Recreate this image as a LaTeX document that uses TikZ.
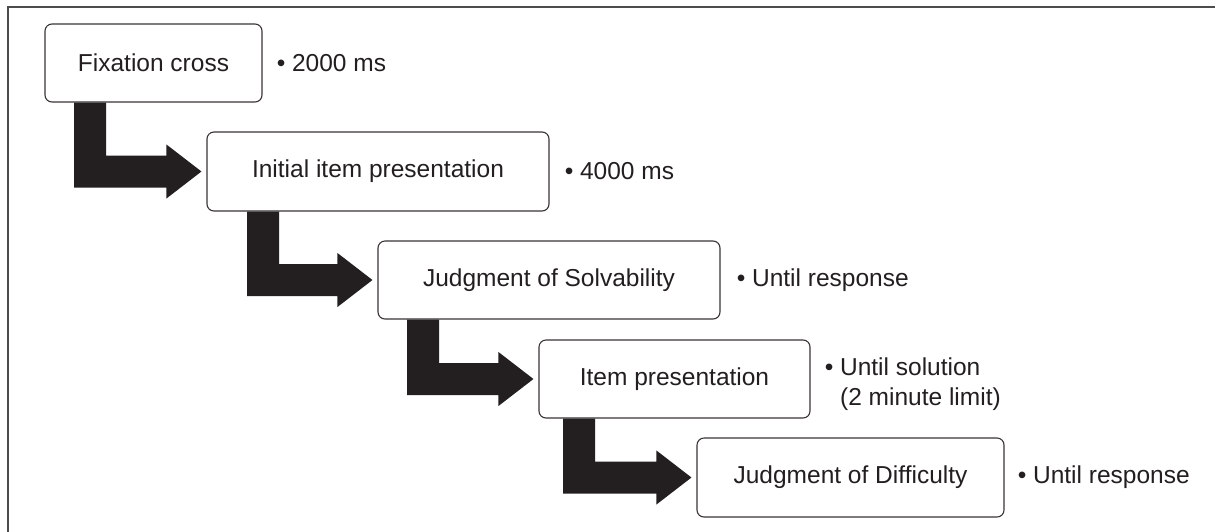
\documentclass[tikz,border=0pt]{standalone}
\usepackage{fontspec}
\setmainfont{Liberation Sans}
\usetikzlibrary{calc}
\definecolor{ink}{HTML}{231F20}
\tikzset{
  stagebox/.style={draw=ink!90, line width=1.1pt, rounded corners=7pt, fill=white,
    inner sep=0pt, text=ink, font=\fontsize{24.5}{30}\selectfont},
  timelabel/.style={anchor=west, inner sep=0pt, text=ink, align=left,
    font=\fontsize{24.5}{30}\selectfont},
  arrowfill/.style={fill=ink},
  frameline/.style={draw=black!70, line width=1.8pt}
}
\newcommand\elbowarrow[3]{%
  \fill[arrowfill] let \p1=(#1.south), \p2=($(#2.west)+(-5,0)$) in
    (#3pt,\y1) -- (#3pt,{\y2-16pt}) -- ({\x2-35pt},{\y2-16pt}) -- ({\x2-35pt},{\y2-27pt})
    -- (\p2) -- ({\x2-35pt},{\y2+27pt}) -- ({\x2-35pt},{\y2+16pt})
    -- ({#3pt+32pt},{\y2+16pt}) -- ({#3pt+32pt},\y1) -- cycle;}
\begin{document}
\begin{tikzpicture}[x=1pt,y=-1pt]
\useasboundingbox (0,0) rectangle (1215,531);
\fill[white] (0,0) rectangle (1215,531);
% frame (only top and left edges visible)
\coordinate (fA) at (1216,7);
\coordinate (fB) at (8,7);
\coordinate (fC) at (8,532);
\draw[frameline] (fA) -- (fB) -- (fC);
% stages
\node[stagebox, minimum width=217pt, minimum height=78pt] (b1) at (153.5,63) {Fixation cross};
\node[stagebox, minimum width=342pt, minimum height=79pt] (b2) at (378,171.5) {Initial item presentation};
\node[stagebox, minimum width=342pt, minimum height=78pt] (b3) at (549,280) {Judgment of Solvability};
\node[stagebox, minimum width=271pt, minimum height=78pt] (b4) at (674.5,379) {Item presentation};
\node[stagebox, minimum width=307pt, minimum height=79pt] (b5) at (850.5,477.5) {Judgment of Difficulty};
% elbow arrows
\elbowarrow{b1}{b2}{74}
\elbowarrow{b2}{b3}{247}
\elbowarrow{b3}{b4}{407}
\elbowarrow{b4}{b5}{563}
% timing labels
\node[timelabel] (t1) at ($(b1.east)+(14,0)$) {• 2000 ms};
\node[timelabel] (t2) at ($(b2.east)+(15,0)$) {• 4000 ms};
\node[timelabel] (t3) at ($(b3.east)+(16,0)$) {• Until response};
\node[timelabel] (t4) at ($(b4.east)+(14,5)$) {• Until solution\\\phantom{• }(2 minute limit)};
\node[timelabel] (t5) at ($(b5.east)+(13,0)$) {• Until response};
\end{tikzpicture}
\end{document}
